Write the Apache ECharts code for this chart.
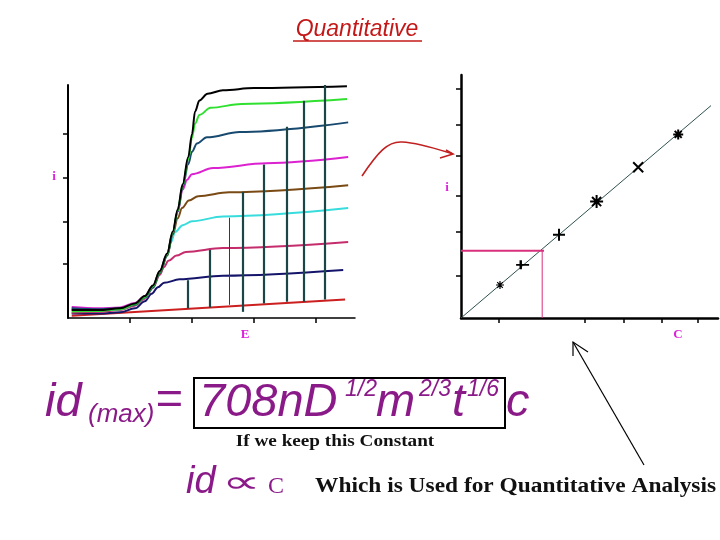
<!DOCTYPE html>
<html>
<head>
<meta charset="utf-8">
<title>Quantitative</title>
<script src="https://cdn.jsdelivr.net/npm/echarts@6/dist/echarts.min.js"></script>
<style>
  html, body { margin: 0; background: #fff; }
  #chart { width: 720px; height: 540px; }
</style>
</head>
<body>
<div id="chart"></div>
<script>
/* ---- left panel: polarograms, i against E (arbitrary units) ---- */
const E_TICKS = [1, 2, 3, 4]
const I_TICKS = [1.23, 2.2, 3.2, 4.2]

const WAVE_BLACK   = [[0.06,0.18],[0.5,0.18],[0.84,0.22],[1.08,0.33],[1.24,0.5],[1.37,0.74],[1.48,1.07],[1.6,1.47],[1.69,1.97],[1.77,2.47],[1.85,3.04],[1.94,3.66],[2.0,4.18],[2.05,4.7],[2.12,4.95],[2.25,5.1],[2.5,5.18],[3.0,5.23],[4.5,5.27]]
const WAVE_GREEN   = [[0.06,0.15],[0.5,0.16],[0.84,0.2],[1.08,0.31],[1.24,0.48],[1.37,0.72],[1.48,1.05],[1.6,1.45],[1.69,1.95],[1.77,2.45],[1.85,3.02],[1.94,3.6],[2.0,4.1],[2.05,4.42],[2.12,4.62],[2.3,4.78],[2.8,4.87],[4.5,4.98]]
const WAVE_TEAL    = [[0.06,0.22],[0.5,0.2],[0.84,0.22],[1.08,0.3],[1.24,0.47],[1.37,0.7],[1.48,1.03],[1.6,1.43],[1.69,1.92],[1.77,2.42],[1.85,2.98],[1.94,3.5],[2.0,3.78],[2.08,3.97],[2.24,4.11],[2.77,4.23],[4.52,4.45]]
const WAVE_MAGENTA = [[0.06,0.25],[0.5,0.22],[0.84,0.24],[1.08,0.34],[1.24,0.5],[1.37,0.73],[1.48,1.06],[1.6,1.46],[1.69,1.94],[1.77,2.42],[1.85,2.92],[1.92,3.14],[2.0,3.27],[2.34,3.41],[3.2,3.52],[4.52,3.66]]
const WAVE_BROWN   = [[0.06,0.2],[0.5,0.19],[0.84,0.21],[1.08,0.31],[1.24,0.47],[1.37,0.7],[1.48,1.02],[1.6,1.42],[1.69,1.9],[1.77,2.27],[1.84,2.5],[1.95,2.67],[2.1,2.77],[2.6,2.86],[4.52,3.02]]
const WAVE_CYAN    = [[0.06,0.17],[0.5,0.17],[0.84,0.2],[1.08,0.3],[1.24,0.46],[1.37,0.69],[1.48,1.02],[1.6,1.42],[1.66,1.72],[1.73,1.96],[1.85,2.11],[2.0,2.2],[2.5,2.31],[4.52,2.5]]
const WAVE_CRIMSON = [[0.06,0.12],[0.5,0.14],[0.84,0.18],[1.08,0.28],[1.24,0.44],[1.37,0.68],[1.48,0.98],[1.55,1.16],[1.62,1.3],[1.75,1.42],[1.9,1.5],[2.5,1.59],[4.52,1.73]]
const WAVE_NAVY    = [[0.06,0.1],[0.5,0.1],[0.84,0.13],[1.08,0.22],[1.24,0.38],[1.35,0.55],[1.45,0.7],[1.55,0.8],[1.8,0.88],[2.5,0.96],[4.44,1.09]]
const WAVE_RED     = [[0.06,0.05],[4.47,0.42]]   /* residual current */

/* diffusion current drops: E position, top and bottom of each bar */
const DROP_E      = [1.93, 2.29, 2.6, 2.82, 3.15, 3.53, 3.8, 4.15]
const DROP_TOP    = [0.86, 1.55, 2.28, 2.87, 3.49, 4.35, 4.94, 5.3]
const DROP_BOTTOM = [0.22, 0.24, 0.3, 0.14, 0.33, 0.37, 0.37, 0.42]

/* ---- right panel: calibration line, i against C ---- */
const C_TICKS  = [0.95, 3.1, 4.08, 5.03, 5.93]
const IC_TICKS = [1.05, 2.15, 3.05, 4.05, 4.83, 5.73]
const MARK_C = [0.975, 1.54, 2.45, 3.39, 4.43, 5.43]
const MARK_I = [0.825, 1.33, 2.08, 2.91, 3.77, 4.59]
const FIT_C = [0, 6.25]
const FIT_I = [0, 5.31]
const READ_C = 2.03
const READ_I = 1.68

const WAVES = [
  { data: WAVE_RED,     color: '#cc1f1f' },
  { data: WAVE_NAVY,    color: '#14146a' },
  { data: WAVE_CRIMSON, color: '#c52c6c' },
  { data: WAVE_CYAN,    color: '#38dcdc' },
  { data: WAVE_BROWN,   color: '#7a4a14' },
  { data: WAVE_MAGENTA, color: '#dc22d0' },
  { data: WAVE_TEAL,    color: '#18496e' },
  { data: WAVE_GREEN,   color: '#30e030' },
  { data: WAVE_BLACK,   color: '#000000' }
]

/* marker glyphs for the calibration points */
const STAR  = 'path://M0,5L10,5M5,0L5,10M1.5,1.5L8.5,8.5M8.5,1.5L1.5,8.5'
const PLUS  = 'path://M0,5L10,5M5,0L5,10'
const PLUS_DASH = 'path://M0,5L14,5M5,0L5,10'
const CROSS = 'path://M0,0L10,10M10,0L0,10'
const MARK_STYLE = [[STAR, 8], [PLUS_DASH, [13, 9]], [PLUS, 12], [STAR, 13], [CROSS, 10], [STAR, 10]]

const PURPLE = '#8b1a89'
const LABEL = '#dd22dd'

function axisBase (grid, max, ticks, width) {
  return {
    gridIndex: grid, type: 'value', min: 0, max: max,
    axisLine: { show: true, onZero: false, lineStyle: { color: '#000', width: width } },
    axisTick: { show: true, inside: false, length: 5, customValues: ticks, lineStyle: { color: '#000', width: 1.5 } },
    axisLabel: { show: false },
    splitLine: { show: false }
  }
}

/* text placed at (x, y); sx stretches it horizontally from its anchor */
function txt (text, x, y, font, fill, align, sx) {
  return {
    type: 'text', silent: true, x: x, y: y, scaleX: sx || 1,
    style: { text: text, x: 0, y: 0, font: font, fill: fill,
      align: align || 'left', verticalAlign: 'middle' }
  }
}

function poly (points, color, w) {
  return { type: 'polyline', silent: true, shape: { points: points },
    style: { stroke: color, lineWidth: w, fill: null } }
}

function bez (x1, y1, cx1, cy1, cx2, cy2, x2, y2, color, w) {
  return { type: 'bezierCurve', silent: true,
    shape: { x1: x1, y1: y1, cpx1: cx1, cpy1: cy1, cpx2: cx2, cpy2: cy2, x2: x2, y2: y2 },
    style: { stroke: color, lineWidth: w, fill: null } }
}

const chart = echarts.init(document.getElementById('chart'))

const series = WAVES.map(w => ({
  type: 'line', xAxisIndex: 0, yAxisIndex: 0,
  data: w.data, showSymbol: false, smooth: 0.35, smoothMonotone: 'x',
  lineStyle: { color: w.color, width: 2 }, silent: true, z: 2
}))

series.push({
  type: 'line', xAxisIndex: 0, yAxisIndex: 0, data: [], silent: true,
  markLine: {
    silent: true, symbol: ['none', 'none'], label: { show: false }, z: 3,
    data: DROP_E.map((e, k) => [
      { coord: [e, DROP_BOTTOM[k]], lineStyle: { color: '#1c4646', width: k === 2 ? 1 : 2.2, type: 'solid' } },
      { coord: [e, DROP_TOP[k]] }
    ])
  }
})

series.push({
  type: 'line', xAxisIndex: 1, yAxisIndex: 1, silent: true,
  data: FIT_C.map((c, k) => [c, FIT_I[k]]), showSymbol: false,
  lineStyle: { color: '#2f5050', width: 1 }
})
series.push({
  type: 'line', xAxisIndex: 1, yAxisIndex: 1, silent: true,
  data: [[0, READ_I], [READ_C + 0.045, READ_I]], showSymbol: false,
  lineStyle: { color: '#d8307c', width: 2 }
})
series.push({
  type: 'line', xAxisIndex: 1, yAxisIndex: 1, silent: true,
  data: [[READ_C, 0], [READ_C, READ_I]], showSymbol: false,
  lineStyle: { color: '#d8307c', width: 1 }
})
series.push({
  type: 'scatter', xAxisIndex: 1, yAxisIndex: 1, silent: true, z: 4,
  data: MARK_C.map((c, k) => ({
    value: [c, MARK_I[k]], symbol: MARK_STYLE[k][0], symbolSize: MARK_STYLE[k][1],
    itemStyle: k === 0 ? { borderWidth: 1.2 } : undefined
  })),
  itemStyle: { color: 'transparent', borderColor: '#000', borderWidth: 2, opacity: 1 }
})

chart.setOption({
  animation: false,
  backgroundColor: '#fff',
  grid: [
    { left: 68, top: 85, width: 287, height: 233 },
    { left: 461, top: 75, width: 257, height: 243 }
  ],
  xAxis: [axisBase(0, 4.63, E_TICKS, 1.5), axisBase(1, 6.425, C_TICKS, 2.5)],
  yAxis: [axisBase(0, 5.3, I_TICKS, 2), axisBase(1, 6.075, IC_TICKS, 2.5)],
  series: series,
  graphic: { elements: [
    /* title */
    txt('Quantitative', 357, 30, 'italic 23px "Liberation Sans"', '#c41818', 'center'),
    { type: 'line', silent: true, shape: { x1: 293, y1: 41, x2: 422, y2: 41 },
      style: { stroke: '#c41818', lineWidth: 1.5 } },

    /* axis letters */
    txt('i', 54, 177, 'bold 13px "Liberation Serif"', LABEL, 'center'),
    txt('E', 245, 335, 'bold 13px "Liberation Serif"', LABEL, 'center'),
    txt('i', 447, 188, 'bold 13px "Liberation Serif"', LABEL, 'center'),
    txt('C', 678, 335, 'bold 13px "Liberation Serif"', LABEL, 'center'),

    /* red curved arrow from the waves to the i axis */
    bez(362, 176, 378, 152, 388, 141, 402, 142, '#c02020', 1.6),
    bez(402, 142, 420, 143, 440, 150, 453, 154, '#c02020', 1.6),
    poly([[446, 150], [453, 154], [440, 158]], '#c02020', 1.6),

    /* black arrow pointing at the calibration line */
    poly([[644, 465], [573, 342]], '#000', 1.2),
    poly([[573, 356], [573, 342], [588, 352]], '#000', 1.2),

    /* Ilkovic equation */
    txt('id', 45, 403, 'italic 47px "Liberation Sans"', PURPLE),
    txt('(max)', 88, 415, 'italic 26px "Liberation Sans"', PURPLE),
    txt('=', 155, 401, 'italic 47px "Liberation Sans"', PURPLE),
    txt('708nD', 199, 403, 'italic 47px "Liberation Sans"', PURPLE),
    txt('1/2', 345, 390, 'italic 23px "Liberation Sans"', PURPLE),
    txt('m', 376, 403, 'italic 47px "Liberation Sans"', PURPLE),
    txt('2/3', 419, 390, 'italic 23px "Liberation Sans"', PURPLE),
    txt('t', 452, 403, 'italic 47px "Liberation Sans"', PURPLE),
    txt('1/6', 467, 390, 'italic 23px "Liberation Sans"', PURPLE),
    txt('c', 506, 403, 'italic 47px "Liberation Sans"', PURPLE),
    { type: 'rect', silent: true, shape: { x: 194, y: 378, width: 311, height: 50 },
      style: { stroke: '#000', lineWidth: 2, fill: null } },
    txt('If we keep this Constant', 335, 442, 'bold 16px "Liberation Serif"', '#111', 'center', 1.2),

    /* proportionality */
    txt('id', 186, 482, 'italic 38px "Liberation Sans"', PURPLE),
    txt('\u221D', 222, 484, '30px "DejaVu Sans"', PURPLE, 'left', 1.8),
    txt('C', 268, 487, '24px "Liberation Serif"', PURPLE),
    txt('Which is Used for Quantitative Analysis', 315, 487, 'bold 20px "Liberation Serif"', '#111', 'left', 1.17)
  ] }
})
</script>
</body>
</html>
